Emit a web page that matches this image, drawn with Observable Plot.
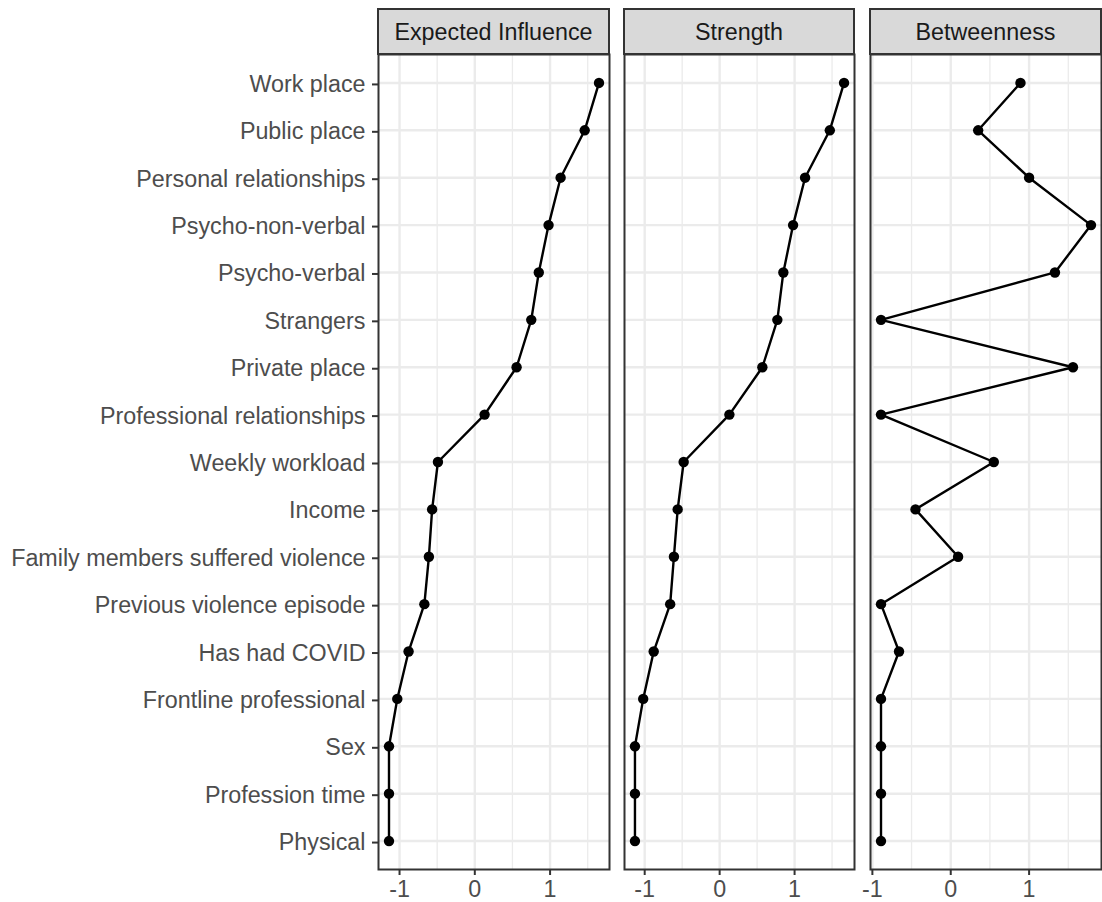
<!DOCTYPE html>
<html>
<head>
<meta charset="utf-8">
<script src="https://cdn.jsdelivr.net/npm/d3@7"></script>
<script src="https://cdn.jsdelivr.net/npm/@observablehq/plot@0.6"></script>
<style>
  html, body { margin: 0; padding: 0; background: white; }
  #wrap { position: relative; width: 1102px; height: 902px; background: white; font-family: Arial, "Liberation Sans", sans-serif; }
  .strip { position: absolute; top: 8px; height: 47px; box-sizing: border-box; border: 2px solid #333333; background: #D9D9D9;
           color: #1A1A1A; font-size: 23.3px; display: flex; align-items: center; justify-content: center; padding-top: 1px; }
  .pl { position: absolute; top: 54px; }
  .pl svg { overflow: visible; }
</style>
</head>
<body>
<div id="wrap"></div>
<script>
// ---- data ----
const labels = [
  "Work place", "Public place", "Personal relationships", "Psycho-non-verbal", "Psycho-verbal",
  "Strangers", "Private place", "Professional relationships", "Weekly workload", "Income",
  "Family members suffered violence", "Previous violence episode", "Has had COVID",
  "Frontline professional", "Sex", "Profession time", "Physical"
];
const measures = ["Expected Influence", "Strength", "Betweenness"];
const expectedInfluence = [1.65, 1.46, 1.14, 0.98, 0.85, 0.75, 0.555, 0.13, -0.49, -0.567, -0.61, -0.67, -0.88, -1.03, -1.14, -1.14, -1.14];
const strength = [1.66, 1.47, 1.14, 0.98, 0.85, 0.77, 0.57, 0.13, -0.48, -0.56, -0.61, -0.66, -0.88, -1.02, -1.13, -1.13, -1.13];
const betweenness = [0.89, 0.35, 1.0, 1.79, 1.33, -0.89, 1.56, -0.89, 0.55, -0.45, 0.094, -0.89, -0.66, -0.89, -0.89, -0.89, -0.89];
const xTicks = [-1, 0, 1];
const xMinor = [-1.5, -0.5, 0.5, 1.5];

const seriesList = [expectedInfluence, strength, betweenness];
const panels = [
  {left: 0, width: 609, marginLeft: 378, showY: true},
  {left: 624, width: 230, marginLeft: 0, showY: false},
  {left: 870, width: 231, marginLeft: 0, showY: false}
];

const wrap = document.getElementById("wrap");
const FONT = 'Arial, "Liberation Sans", sans-serif';

measures.forEach((m, k) => {
  const vals = seriesList[k];
  const data = labels.map((l, i) => ({label: l, value: vals[i]}));
  const [lo, hi] = d3.extent(vals);
  const pad = (hi - lo) * 0.05;
  const domain = [lo - pad, hi + pad];
  const minor = xMinor.filter(v => v > domain[0] && v < domain[1]);
  const p = panels[k];

  const chart = Plot.plot({
    width: p.width,
    height: 848,
    marginTop: 0,
    marginBottom: 33,
    marginLeft: p.marginLeft,
    marginRight: 0,
    style: {fontFamily: FONT, fontSize: "23.3px", background: "transparent", overflow: "visible"},
    x: {domain, axis: null},
    y: {type: "point", domain: labels, padding: 0.6, round: false, axis: null},
    marks: [
      Plot.gridX(minor, {stroke: "#EBEBEB", strokeOpacity: 1, strokeWidth: 1.3}),
      Plot.gridX(xTicks, {stroke: "#EBEBEB", strokeOpacity: 1, strokeWidth: 2.4}),
      Plot.gridY(labels, {stroke: "#EBEBEB", strokeOpacity: 1, strokeWidth: 2.4}),
      Plot.line(data, {x: "value", y: "label", stroke: "black", strokeWidth: 2.4}),
      Plot.dot(data, {x: "value", y: "label", r: 5.2, fill: "black", stroke: "none"}),
      Plot.frame({stroke: "#333333", strokeWidth: 2}),
      Plot.axisX(xTicks, {tickSize: 6, tickPadding: 5, stroke: "#333333", strokeWidth: 2,
        fill: "#4D4D4D", fontSize: 23.3, tickFormat: d => String(d), label: null}),
      p.showY ? Plot.axisY(labels, {tickSize: 6, tickPadding: 7, dy: 1.5, stroke: "#333333", strokeWidth: 2,
        fill: "#4D4D4D", fontSize: 23.3, label: null}) : null
    ]
  });
  const holder = document.createElement("div");
  holder.className = "pl";
  holder.style.left = p.left + "px";
  holder.appendChild(chart);
  wrap.appendChild(holder);

  const strip = document.createElement("div");
  strip.className = "strip";
  const panelLeft = p.left + p.marginLeft;
  const panelWidth = p.width - p.marginLeft;
  strip.style.left = (panelLeft - 1) + "px";
  strip.style.width = (panelWidth + 2) + "px";
  strip.textContent = m;
  wrap.appendChild(strip);
});
</script>
</body>
</html>
